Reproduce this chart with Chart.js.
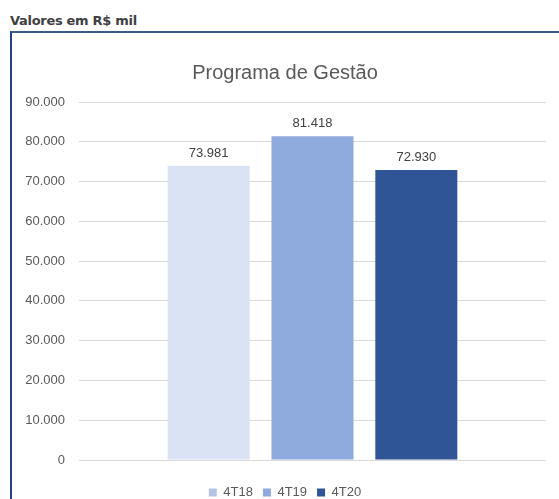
<!DOCTYPE html>
<html>
<head>
<meta charset="utf-8">
<script src="https://cdn.jsdelivr.net/npm/chart.js@4"></script>
<style>
  body { margin: 0; background: #fff; width: 559px; height: 499px; overflow: hidden; position: relative; }
  #header { position: absolute; left: 10px; top: 13px; font: bold 13px "DejaVu Sans", sans-serif; color: #404040; letter-spacing: -0.3px; }
  #box { position: absolute; left: 10px; top: 31px; width: 560px; height: 480px; border-top: 2px solid #3c5a8a; border-left: 2px solid #24418c; }
  #wrap { position: absolute; left: 1px; top: 2px; width: 548px; height: 474px; }
</style>
</head>
<body>
<div id="header">Valores em R$ mil</div>
<div id="box"><div id="wrap"><canvas id="barChart"></canvas></div></div>
<script>
const categories = [''];
const seriesNames = ['4T18', '4T19', '4T20'];
const seriesValues = [73981, 81418, 72930];
const seriesColors = ['#dae3f3', '#8faadc', '#2f5597'];
const legendColors = ['#b4c2e4', '#8faadc', '#2f5597'];
const yTicks = [0, 10000, 20000, 30000, 40000, 50000, 60000, 70000, 80000, 90000];

function fmt(v) {
    return String(v).replace(/\B(?=(\d{3})+(?!\d))/g, '.');
}

const barLabels = {
    id: 'barLabels',
    afterDatasetsDraw(chart) {
        const ctx = chart.ctx;
        ctx.save();
        ctx.font = '13px "Liberation Sans", Arial, sans-serif';
        ctx.fillStyle = '#404040';
        ctx.textAlign = 'center';
        ctx.textBaseline = 'bottom';
        chart.data.datasets.forEach((ds, i) => {
            chart.getDatasetMeta(i).data.forEach((bar, j) => {
                ctx.fillText(fmt(ds.data[j]), bar.x, bar.y - 6);
            });
        });
        ctx.restore();
    }
};

const ctx = document.getElementById('barChart').getContext('2d');
new Chart(ctx, {
    type: 'bar',
    data: {
        labels: categories,
        datasets: seriesNames.map((name, i) => ({
            label: name,
            data: [seriesValues[i]],
            backgroundColor: seriesColors[i],
            categoryPercentage: 0.667,
            barPercentage: 0.79
        }))
    },
    options: {
        responsive: true,
        maintainAspectRatio: false,
        animation: false,
        layout: { padding: { left: 11, right: 15, top: 26, bottom: 0 } },
        plugins: {
            title: {
                display: true,
                text: 'Programa de Gestão',
                color: '#595959',
                font: { family: '"Liberation Sans", Arial, sans-serif', size: 20, weight: 'normal' },
                padding: { top: 0, bottom: 17 }
            },
            legend: {
                position: 'bottom',
                labels: {
                    color: '#595959',
                    font: { family: '"Liberation Sans", Arial, sans-serif', size: 13 },
                    boxWidth: 8,
                    boxHeight: 8,
                    padding: 10,
                    generateLabels(chart) {
                        const items = Chart.defaults.plugins.legend.labels.generateLabels(chart);
                        items.forEach((it, i) => { it.fillStyle = legendColors[i]; it.strokeStyle = legendColors[i]; it.lineWidth = 0; });
                        return items;
                    }
                }
            },
            tooltip: { enabled: false }
        },
        scales: {
            x: {
                grid: { display: false },
                border: { display: false },
                ticks: { display: false },
                afterFit(axis) { axis.height = 16; }
            },
            y: {
                min: 0,
                max: 90000,
                afterBuildTicks(axis) { axis.ticks = yTicks.map(v => ({ value: v })); },
                afterFit(axis) { axis.width = 55; },
                grid: { color: '#d9d9d9', drawTicks: false },
                border: { display: false },
                ticks: {
                    color: '#595959',
                    font: { family: '"Liberation Sans", Arial, sans-serif', size: 13 },
                    padding: 14,
                    callback: v => fmt(v)
                }
            }
        }
    },
    plugins: [barLabels]
});
</script>
</body>
</html>
